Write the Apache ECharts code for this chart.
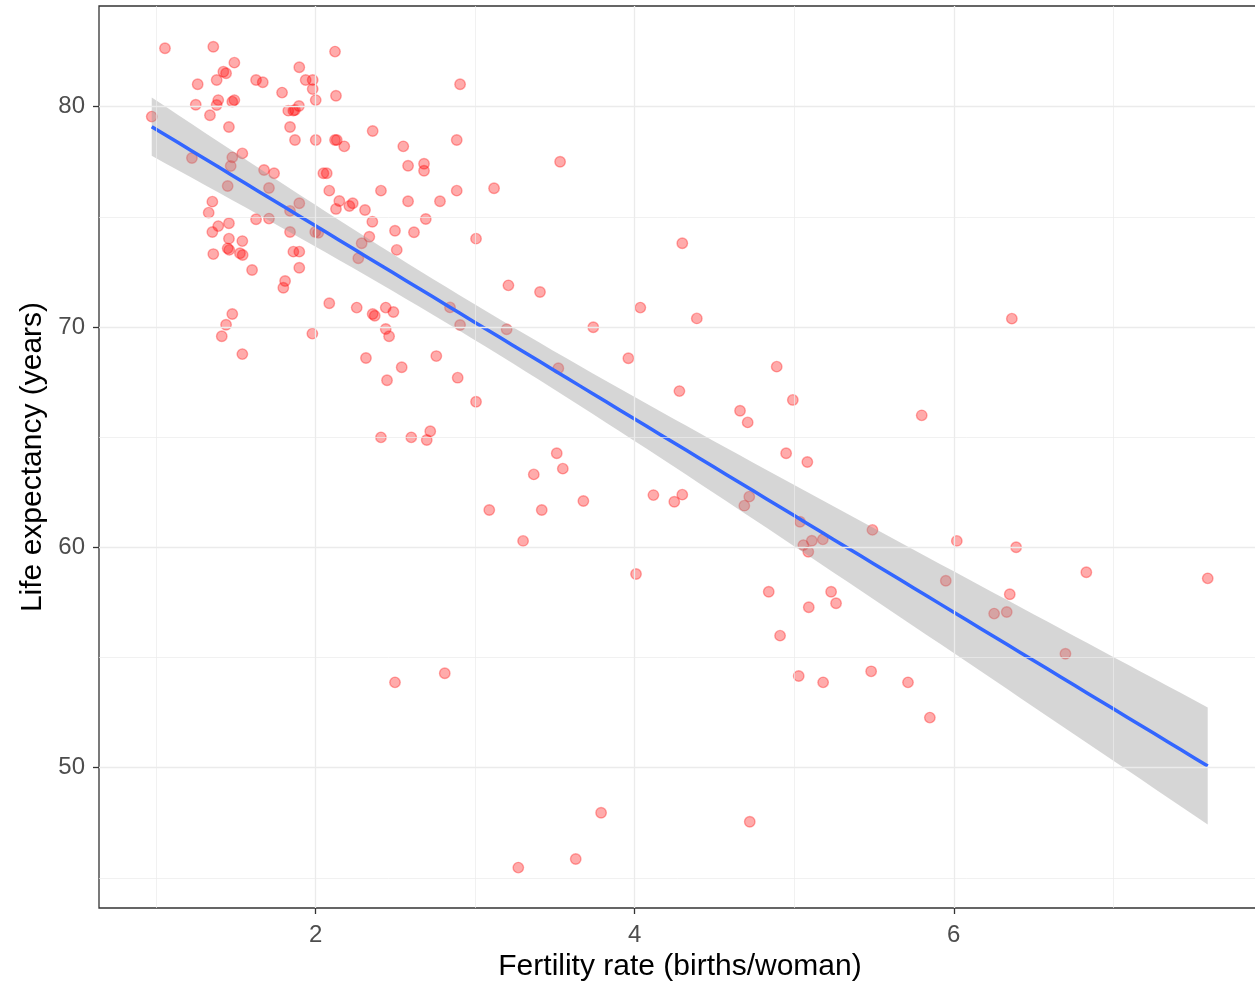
<!DOCTYPE html>
<html><head><meta charset="utf-8">
<script src="https://cdn.jsdelivr.net/npm/echarts@6/dist/echarts.min.js"></script>
<style>html,body{margin:0;padding:0;background:#fff}#c{width:1255px;height:983px}</style>
</head><body><div id="c"></div>
<script>
// Fertility rate (births/woman)
const fertility = [
1.055,1.358,2.121,1.490,1.897,1.421,1.438,1.260,1.379,1.626,
1.668,1.937,1.981,1.981,1.789,2.127,1.248,1.389,1.379,1.490,
1.477,2.000,0.972,1.337,1.828,1.860,1.870,1.895,2.905,1.456,
1.839,1.870,2.000,2.121,2.132,2.179,2.357,2.549,2.884,1.224,
1.477,1.540,1.467,1.448,1.676,1.739,1.707,1.897,1.839,2.579,
2.679,2.679,2.048,2.069,2.085,2.409,2.884,2.148,2.127,2.211,
2.232,2.309,2.579,2.779,2.355,2.690,2.497,2.616,2.508,2.288,
2.336,1.352,1.329,1.389,1.352,1.456,1.626,1.707,1.839,1.997,
2.016,1.456,1.540,1.448,1.458,1.358,1.525,1.542,1.860,1.897,
2.267,1.601,1.897,1.808,1.797,1.477,1.438,1.411,1.540,1.979,
2.085,2.257,2.357,2.370,2.439,2.487,2.439,2.460,2.315,2.539,
2.447,2.756,2.890,2.842,2.905,2.409,2.599,2.696,2.718,3.532,
3.118,3.005,4.298,3.208,3.406,3.197,4.035,4.389,3.740,3.521,
3.960,3.005,4.280,4.660,4.708,3.511,3.549,3.367,3.088,3.417,
3.678,3.300,4.008,4.117,2.497,2.809,4.890,4.991,5.799,4.949,
5.082,4.248,4.298,4.687,4.718,5.036,5.490,5.057,5.110,5.088,
5.179,6.019,4.840,5.231,5.091,5.262,5.950,6.364,6.391,6.831,
7.592,6.351,6.253,6.332,6.700,5.713,5.850,4.911,5.028,5.181,
5.482,3.789,3.630,3.270,4.721
];
// Life expectancy (years)
const lifeExp = [
82.65,82.72,82.50,82.00,81.79,81.59,81.52,81.02,81.21,81.21,
81.11,81.21,81.21,80.80,80.64,80.50,80.09,80.30,80.08,80.30,
80.23,80.30,79.55,79.61,79.82,79.82,79.85,80.03,81.02,79.08,
79.08,78.49,78.49,78.49,78.49,78.20,78.90,78.20,78.49,77.67,
77.70,77.88,77.31,76.40,77.13,76.98,76.31,75.62,75.27,77.32,
77.41,77.09,76.98,76.98,76.19,76.19,76.19,75.72,75.36,75.49,
75.62,75.31,75.71,75.71,74.78,74.90,74.37,74.30,73.50,73.80,
74.10,75.69,75.19,74.58,74.31,74.71,74.89,74.92,74.31,74.31,
74.28,74.01,73.90,73.57,73.50,73.31,73.35,73.27,73.42,73.42,
73.12,72.59,72.69,72.09,71.78,70.59,70.10,69.58,68.77,69.70,
71.08,70.88,70.59,70.51,70.88,70.68,69.91,69.58,68.59,68.17,
67.58,68.68,67.70,70.89,70.09,64.99,64.99,64.87,65.27,77.50,
76.30,74.01,73.80,71.89,71.59,69.90,70.88,70.39,69.99,68.13,
68.58,66.61,67.09,66.20,65.67,64.27,63.57,63.31,61.69,61.69,
62.10,60.29,58.79,62.37,53.87,54.28,68.20,66.69,65.99,64.27,
63.87,62.07,62.39,61.89,62.30,61.16,60.79,60.10,60.30,59.80,
60.36,60.29,57.98,57.98,57.28,57.46,58.48,70.38,60.00,58.87,
58.59,57.87,56.99,57.06,55.17,53.87,52.27,55.99,54.16,53.87,
54.37,47.95,45.85,45.46,47.54
];
const xTicks = [2, 4, 6];
const yTicks = [50, 60, 70, 80];
const xMinor = [1, 3, 5, 7];
const yMinor = [45, 55, 65, 75];
const xTitle = 'Fertility rate (births/woman)';
const yTitle = 'Life expectancy (years)';

// linear model fit (like geom_smooth(method = "lm"))
const n = fertility.length;
const xbar = fertility.reduce((a, b) => a + b, 0) / n;
const ybar = lifeExp.reduce((a, b) => a + b, 0) / n;
let sxx = 0, sxy = 0;
for (let i = 0; i < n; i++) { sxx += (fertility[i] - xbar) ** 2; sxy += (fertility[i] - xbar) * (lifeExp[i] - ybar); }
const slope = sxy / sxx, icpt = ybar - slope * xbar;
let sse = 0;
for (let i = 0; i < n; i++) { sse += (lifeExp[i] - icpt - slope * fertility[i]) ** 2; }
const sRes = Math.sqrt(sse / (n - 2));
const tq = 1.973;
const xLo = Math.min(...fertility), xHi = Math.max(...fertility);
const fitPts = [], upper = [], lower = [];
for (let k = 0; k < 80; k++) {
  const x = xLo + (xHi - xLo) * k / 79;
  const f = icpt + slope * x;
  const se = sRes * Math.sqrt(1 / n + (x - xbar) ** 2 / sxx);
  fitPts.push([x, f]); upper.push([x, f + tq * se]); lower.push([x, f - tq * se]);
}

const FONT = "'Liberation Sans', Arial, sans-serif";
const gridLines = [];
xTicks.forEach(v => gridLines.push({ xAxis: v, lineStyle: { width: 1.3 } }));
yTicks.forEach(v => gridLines.push({ yAxis: v, lineStyle: { width: 1.3 } }));
xMinor.forEach(v => gridLines.push({ xAxis: v, lineStyle: { width: 0.7 } }));
yMinor.forEach(v => gridLines.push({ yAxis: v, lineStyle: { width: 0.7 } }));

const chart = echarts.init(document.getElementById('c'), null, { renderer: 'canvas' });
chart.setOption({
  animation: false,
  backgroundColor: '#ffffff',
  grid: { left: 99, top: 6, right: -6, bottom: 75, outerBoundsMode: 'none', containLabel: false,
          show: true, borderColor: '#333333', borderWidth: 1.3, backgroundColor: 'transparent' },
  xAxis: {
    type: 'value', min: 0.6414, max: 7.926,
    name: xTitle, nameLocation: 'middle', nameGap: 44,
    nameTextStyle: { fontFamily: FONT, fontSize: 30, color: '#000000' },
    axisLine: { show: false },
    axisTick: { show: true, customValues: xTicks, length: 6, lineStyle: { color: '#333333', width: 1.3 } },
    axisLabel: { customValues: xTicks, margin: 15, fontFamily: FONT, fontSize: 24, color: '#4D4D4D' },
    splitLine: { show: false }
  },
  yAxis: {
    type: 'value', min: 43.627, max: 84.571,
    name: yTitle, nameLocation: 'middle', nameGap: 51, nameRotate: 90,
    nameTextStyle: { fontFamily: FONT, fontSize: 30, color: '#000000' },
    axisLine: { show: false },
    axisTick: { show: true, customValues: yTicks, length: 6, lineStyle: { color: '#333333', width: 1.3 } },
    axisLabel: { customValues: yTicks, margin: 14, fontFamily: FONT, fontSize: 24, color: '#4D4D4D' },
    splitLine: { show: false }
  },
  series: [
    {
      type: 'line', data: [], z: 0, silent: true,
      markLine: {
        silent: true, symbol: ['none', 'none'], label: { show: false },
        lineStyle: { color: '#EBEBEB', type: 'solid' },
        data: gridLines, animation: false
      }
    },
    {
      type: 'scatter', z: 2, silent: true,
      data: fertility.map((x, i) => [x, lifeExp[i]]),
      symbol: 'circle', symbolSize: 10.5,
      itemStyle: { color: 'rgba(255,0,0,0.33)', borderColor: 'rgba(255,0,0,0.33)', borderWidth: 1.4, opacity: 1 }
    },
    {
      type: 'custom', z: 3, silent: true, data: [0],
      renderItem: function (params, api) {
        const pts = upper.map(p => api.coord(p)).concat(lower.slice().reverse().map(p => api.coord(p)));
        return { type: 'polygon', shape: { points: pts }, style: { fill: 'rgba(153,153,153,0.4)' } };
      }
    },
    {
      type: 'line', z: 4, silent: true, data: fitPts, showSymbol: false,
      lineStyle: { color: '#3366FF', width: 3.5 }
    }
  ]
});
</script>
</body></html>
